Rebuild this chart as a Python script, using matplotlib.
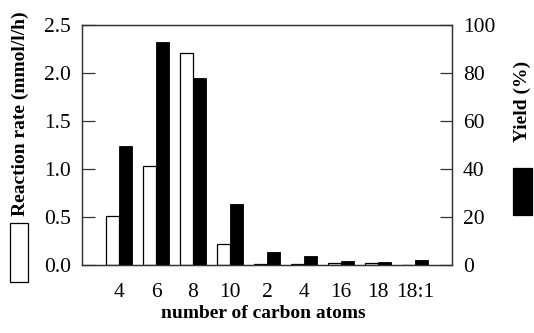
import matplotlib
matplotlib.use("Agg")
import matplotlib.pyplot as plt
import numpy as np
from matplotlib.patches import Rectangle

# chain length of the fatty acid substrates
carbons = ["4", "6", "8", "10", "2", "4", "16", "18", "18:1"]
rate = [0.51, 1.03, 2.21, 0.22, 0.01, 0.01, 0.02, 0.02, 0.0]      # mmol/l/h
yield_pct = [49.4, 93.0, 78.0, 25.5, 5.5, 3.6, 1.8, 1.4, 1.9]     # %

plt.rcParams["font.family"] = ["Liberation Serif", "DejaVu Serif"]

fig = plt.figure(figsize=(5.34, 3.33), dpi=100)
ax = fig.add_axes([82 / 534, 1 - 265 / 333, 370 / 534, 240 / 333])
ax2 = ax.twinx()

x = np.arange(len(carbons))
w = 0.34
ax.bar(x - w / 2, rate, w, color="white", edgecolor="black", linewidth=0.9, zorder=2)
ax2.bar(x + w / 2, yield_pct, w, color="black", edgecolor="black", linewidth=0.6)

ax.set_xlim(-1, 9)
ax.set_ylim(0, 2.5)
ax2.set_ylim(0, 100)
ax.set_yticks(np.arange(0, 2.51, 0.5))
ax.set_yticklabels([f"{v:.1f}" for v in np.arange(0, 2.51, 0.5)])
ax2.set_yticks(np.arange(0, 101, 20))
ax.set_xticks(x)
ax.set_xticklabels(carbons)

for a in (ax, ax2):
    for s in a.spines.values():
        s.set_linewidth(0.9)
        s.set_color("#333333")
    a.tick_params(axis="y", direction="in", length=9, width=0.9, color="#333333",
                  labelsize=15.5, pad=8)
ax.tick_params(axis="x", length=0, labelsize=15.5, pad=13)

fig.text(263 / 534, 1 - 313 / 333, "number of carbon atoms", ha="center", va="center",
         fontsize=14, fontweight="bold")

# left axis title with open-box key underneath
fig.text(20 / 534, 1 - 114 / 333, "Reaction rate (mmol/l/h)", rotation=90,
         ha="center", va="center", fontsize=14, fontweight="bold")
fig.add_artist(Rectangle((10 / 534, 1 - 282 / 333), 18 / 534, 59 / 333,
                         transform=fig.transFigure, facecolor="white",
                         edgecolor="black", linewidth=0.9))

# right axis title with filled-box key underneath
fig.text(522 / 534, 1 - 101 / 333, "Yield (%)", rotation=90,
         ha="center", va="center", fontsize=14, fontweight="bold")
fig.add_artist(Rectangle((513 / 534, 1 - 215 / 333), 19 / 534, 47 / 333,
                         transform=fig.transFigure, facecolor="black",
                         edgecolor="black", linewidth=0.9))

fig.savefig("out.png", dpi=100)
